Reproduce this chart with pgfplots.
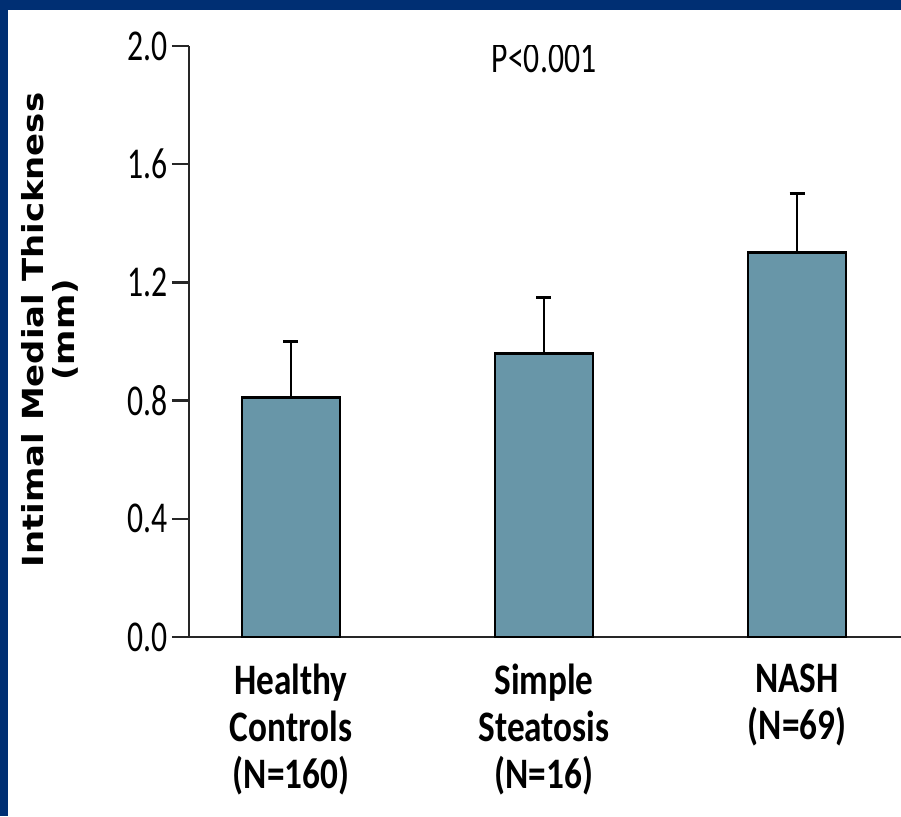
\documentclass[border=0pt]{standalone}
\usepackage{pgfplots}
\pgfplotsset{compat=1.18}
\usepackage{fontspec}
\setmainfont{Carlito}
\newfontfamily\tickfont[FakeStretch=0.72]{Carlito}
\newfontfamily\catfont[FakeStretch=0.81]{Carlito}
\newfontfamily\ylabfont[FakeStretch=1.17]{DejaVu Sans}
\definecolor{framenavy}{RGB}{0,47,115}
\definecolor{barblue}{RGB}{104,150,168}
\begin{document}
\begin{tikzpicture}[x=1pt,y=1pt]
% slide frame
\fill[framenavy] (0,0) rectangle (901,816);
\fill[white] (8,0) rectangle (901,806);
\path[use as bounding box] (0,0) rectangle (901,816);
% y-axis title
\node[rotate=90, align=center, inner sep=0pt,
      font=\ylabfont\bfseries\fontsize{29}{31}\selectfont] at (50,486)
  {Intimal Medial Thickness\\(mm)};
\begin{scope}
\clip (8,0) rectangle (901,806);
\begin{axis}[
  at={(189pt,179pt)}, anchor=south west,
  scale only axis, width=712pt, height=591pt,
  xmin=-0.403, xmax=2.411, ymin=0, ymax=2,
  enlargelimits=false,
  axis x line*=bottom, axis y line*=left,
  axis line style={line width=2.6pt, black!85},
  ytick={0,0.4,0.8,1.2,1.6,2.0},
  yticklabels={0.0,0.4,0.8,1.2,1.6,2.0},
  tick align=outside,
  major tick length=17pt,
  ytick style={line width=2.6pt, black!85},
  yticklabel style={font=\tickfont\fontsize{44}{44}\selectfont, inner sep=0pt, anchor=east, xshift=-4pt},
  xtick={0,1,2},
  xtick style={draw=none},
  xticklabels={{Healthy\\Controls\\(N=160)},{Simple\\Steatosis\\(N=16)},{NASH\\(N=69)}},
  xticklabel style={align=center, inner sep=0pt, anchor=north, yshift=-10pt,
    font=\catfont\bfseries\fontsize{43.5}{47}\selectfont},
]
\addplot[ybar, bar width=98pt, fill=barblue, draw=black, line width=2.8pt,
  error bars/.cd, y dir=plus, y explicit, error mark=|,
  error bar style={line width=2.8pt, black},
  error mark options={line width=2.8pt, mark size=7.5pt, black}]
coordinates {(0,0.81) +- (0,0.19) (1,0.96) +- (0,0.19) (2,1.30) +- (0,0.20)};
\node[anchor=base, inner sep=0pt, font=\tickfont\fontsize{44}{44}\selectfont]
  at (axis cs:1,1.909) {P<0.001};
\end{axis}
\end{scope}
\end{tikzpicture}
\end{document}
